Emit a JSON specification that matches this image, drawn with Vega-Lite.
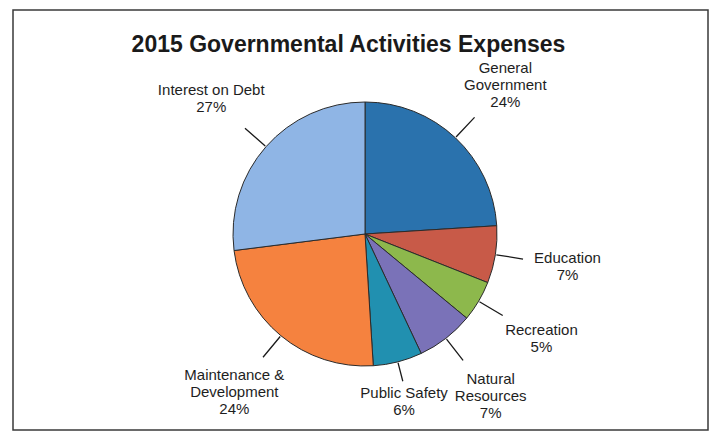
{
  "$schema": "https://vega.github.io/schema/vega-lite/v6.json",
  "width": 695,
  "height": 420,
  "autosize": {"type": "none"},
  "padding": {"left": 13, "top": 10, "right": 4, "bottom": 5},
  "background": "#ffffff",
  "view": {"stroke": "#3a3a3a", "strokeWidth": 1.5},
  "title": {
    "text": "2015 Governmental Activities Expenses",
    "orient": "top",
    "anchor": "middle",
    "frame": "group",
    "offset": -47,
    "dx": -12,
    "font": "Liberation Sans",
    "fontSize": 23,
    "fontWeight": "bold",
    "color": "#1a1a1a"
  },
  "data": {
    "values": [
      {"order": 1, "name": "General Government", "value": 24, "label": "General\nGovernment\n24%"},
      {"order": 2, "name": "Education", "value": 7, "label": "Education\n7%"},
      {"order": 3, "name": "Recreation", "value": 5, "label": "Recreation\n5%"},
      {"order": 4, "name": "Natural Resources", "value": 7, "label": "Natural\nResources\n7%"},
      {"order": 5, "name": "Public Safety", "value": 6, "label": "Public Safety\n6%"},
      {"order": 6, "name": "Maintenance & Development", "value": 24, "label": "Maintenance &\nDevelopment\n24%"},
      {"order": 7, "name": "Interest on Debt", "value": 27, "label": "Interest on Debt\n27%"}
    ]
  },
  "encoding": {
    "theta": {"field": "value", "type": "quantitative", "stack": true},
    "order": {"field": "order", "type": "quantitative"}
  },
  "layer": [
    {
      "mark": {"type": "arc", "radius": 132, "stroke": "#2b2b2b", "strokeWidth": 1, "xOffset": 4.5, "yOffset": 14},
      "encoding": {
        "color": {
          "field": "name",
          "type": "nominal",
          "legend": null,
          "scale": {
            "domain": ["General Government", "Education", "Recreation", "Natural Resources", "Public Safety", "Maintenance & Development", "Interest on Debt"],
            "range": ["#2a72ad", "#c85a48", "#8db84c", "#7a72b8", "#2190b0", "#f5823f", "#8fb5e5"]
          }
        }
      }
    },
    {
      "mark": {"type": "arc", "radius": 160, "radius2": 133, "padAngle": 3, "filled": false, "stroke": "#1a1a1a", "strokeWidth": 1.3, "xOffset": 4.5, "yOffset": 14},
      "encoding": {
        "strokeOpacity": {"condition": {"test": "datum.order == 5", "value": 0}, "value": 1}
      }
    },
    {
      "mark": {"type": "arc", "radius": 152, "radius2": 133, "padAngle": 3, "filled": false, "stroke": "#1a1a1a", "strokeWidth": 1.3, "xOffset": 4.5, "yOffset": 14},
      "encoding": {
        "strokeOpacity": {"condition": {"test": "datum.order == 5", "value": 1}, "value": 0}
      }
    },
    {
      "mark": {"type": "text", "radius": 205, "align": "center", "baseline": "middle", "dy": -17, "lineBreak": "\n", "lineHeight": 17, "font": "Liberation Sans", "fontSize": 15, "color": "#1e1e1e", "xOffset": 4.5, "yOffset": 14},
      "encoding": {
        "text": {"field": "label", "type": "nominal"},
        "opacity": {"condition": {"test": "datum.order == 1 || datum.order == 4 || datum.order == 6", "value": 1}, "value": 0}
      }
    },
    {
      "mark": {"type": "text", "radius": 205, "align": "center", "baseline": "middle", "dy": -8.5, "lineBreak": "\n", "lineHeight": 17, "font": "Liberation Sans", "fontSize": 15, "color": "#1e1e1e", "xOffset": 4.5, "yOffset": 14},
      "encoding": {
        "text": {"field": "label", "type": "nominal"},
        "opacity": {"condition": {"test": "datum.order == 2 || datum.order == 3 || datum.order == 7", "value": 1}, "value": 0}
      }
    },
    {
      "mark": {"type": "text", "radius": 157, "align": "center", "baseline": "top", "lineBreak": "\n", "lineHeight": 17, "font": "Liberation Sans", "fontSize": 15, "color": "#1e1e1e", "xOffset": 4.5, "yOffset": 14},
      "encoding": {
        "text": {"field": "label", "type": "nominal"},
        "opacity": {"condition": {"test": "datum.order == 5", "value": 1}, "value": 0}
      }
    }
  ]
}
